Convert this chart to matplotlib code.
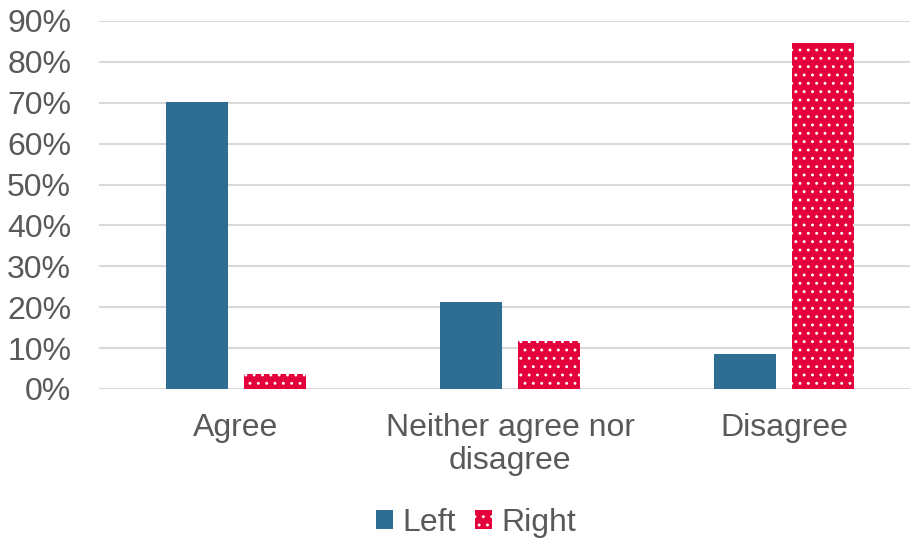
import matplotlib
matplotlib.use("Agg")
import matplotlib.pyplot as plt
import numpy as np
from matplotlib.patches import Patch

categories = ["Agree", "Neither agree nor\ndisagree", "Disagree"]
left_vals = [70.2, 21.2, 8.6]
right_vals = [3.7, 11.7, 84.6]
series_names = ["Left", "Right"]
yticks = [0, 10, 20, 30, 40, 50, 60, 70, 80, 90]

BLUE = "#2E6E93"
RED = "#E4003B"
TEXT = "#595959"
GRID = "#D9D9D9"

plt.rcParams['font.family'] = ['Liberation Sans', 'DejaVu Sans']
plt.rcParams['hatch.linewidth'] = 0.9

fig = plt.figure(figsize=(9.10, 5.42), dpi=100)
W, H = 910, 542
ax = fig.add_axes([99 / W, (H - 389) / H, (921 - 99) / W, (389 - 21) / H])

x = np.arange(len(categories))
bw = 62 / 274
gap = 16 / 274
ax.bar(x - (bw + gap) / 2, left_vals, width=bw, color=BLUE, linewidth=0, zorder=3)
ax.bar(x + (bw + gap) / 2, right_vals, width=bw, color=RED, edgecolor="white",
       hatch="..", linewidth=0, zorder=3)

ax.set_xlim(-0.5, 2.5)
ax.set_ylim(0, 90)
ax.set_yticks(yticks)
ax.set_yticklabels([f"{v}%" for v in yticks])
ax.set_xticks(x)
ax.set_xticklabels(categories, linespacing=1.15)
ax.tick_params(axis='both', length=0, labelsize=23, colors=TEXT)
ax.tick_params(axis='y', pad=20)
ax.tick_params(axis='x', pad=17)
ax.yaxis.grid(True, color=GRID, linewidth=1.5, zorder=0)
ax.set_axisbelow(True)
for s in ax.spines.values():
    s.set_visible(False)

handles = [Patch(facecolor=BLUE, linewidth=0),
           Patch(facecolor=RED, edgecolor="white", hatch="..", linewidth=0)]
fig.legend(handles, series_names, loc="center", bbox_to_anchor=(476 / W, 1 - 523 / H),
           ncol=2, frameon=False, fontsize=23, labelcolor=TEXT,
           handlelength=0.53, handleheight=0.53, handletextpad=0.28, columnspacing=0.62)

fig.savefig("out.png", dpi=100)
